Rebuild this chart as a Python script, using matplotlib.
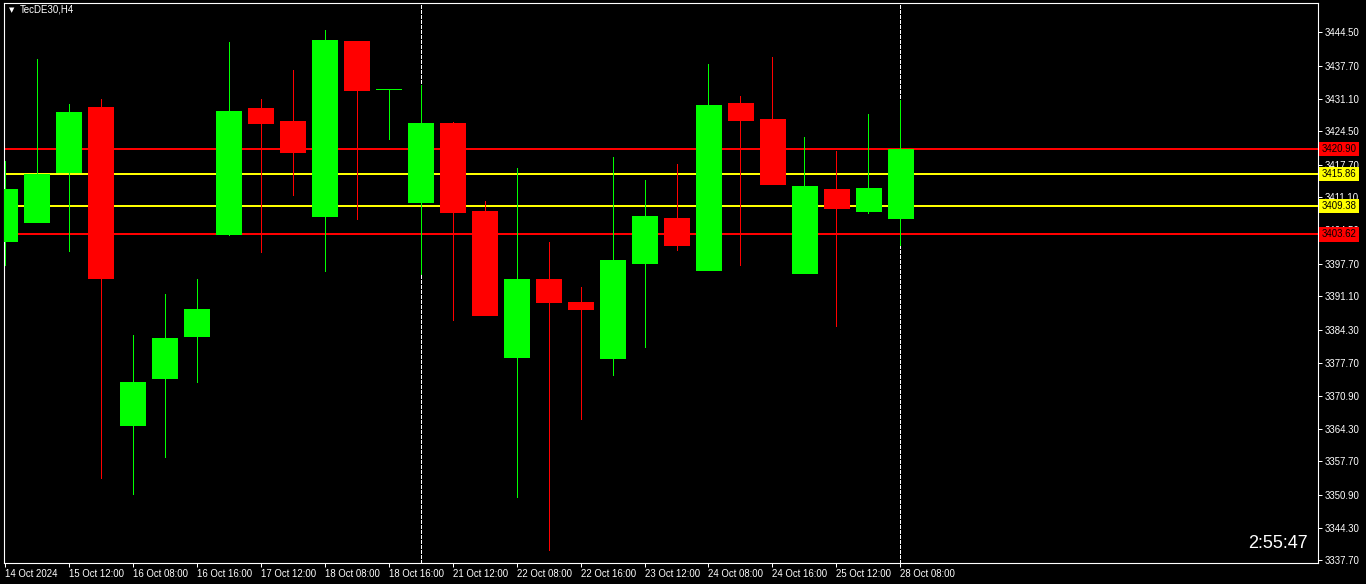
import matplotlib
matplotlib.use("Agg")
import matplotlib.pyplot as plt
import numpy as np

# H4 candles
opens = [3402.35, 3406.19, 3416.24, 3429.39, 3365.13, 3374.64, 3383.13, 3403.76, 3429.19, 3426.56,
         3407.40, 3442.74, 3432.97, 3410.24, 3426.15, 3408.36, 3378.89, 3394.60, 3389.95, 3378.68,
         3397.90, 3406.94, 3396.48, 3430.20, 3426.96, 3395.88, 3412.80, 3408.42, 3407.00]
highs = [3418.47, 3439.10, 3430.00, 3431.01, 3383.27, 3391.57, 3394.60, 3442.54, 3431.01, 3436.87,
         3444.97, 3442.74, 3432.97, 3433.84, 3426.35, 3410.38, 3417.05, 3402.08, 3392.98, 3419.28,
         3414.63, 3417.86, 3438.09, 3431.62, 3439.50, 3423.32, 3420.49, 3427.98, 3430.81]
lows = [3397.43, 3406.19, 3400.33, 3354.41, 3351.17, 3358.66, 3373.83, 3403.56, 3400.12, 3411.65,
        3396.28, 3406.80, 3422.98, 3395.55, 3386.31, 3387.38, 3350.57, 3339.85, 3366.34, 3375.18,
        3380.91, 3400.53, 3396.48, 3397.49, 3413.88, 3395.88, 3385.16, 3408.01, 3401.54]
closes = [3412.80, 3415.90, 3428.38, 3394.86, 3373.77, 3382.67, 3388.53, 3428.58, 3426.22, 3420.35,
          3442.94, 3432.89, 3432.97, 3426.15, 3408.21, 3387.38, 3394.60, 3390.01, 3388.53, 3398.44,
          3407.34, 3401.54, 3429.80, 3426.82, 3413.88, 3413.41, 3409.02, 3413.01, 3420.90]

time_labels = ["14 Oct 2024", "15 Oct 12:00", "16 Oct 08:00", "16 Oct 16:00", "17 Oct 12:00",
               "18 Oct 08:00", "18 Oct 16:00", "21 Oct 12:00", "22 Oct 08:00", "22 Oct 16:00",
               "23 Oct 12:00", "24 Oct 08:00", "24 Oct 16:00", "25 Oct 12:00", "28 Oct 08:00"]
price_ticks = [3444.50, 3437.70, 3431.10, 3424.50, 3417.70, 3411.10, 3404.50, 3397.70, 3391.10,
               3384.30, 3377.70, 3370.90, 3364.30, 3357.70, 3350.90, 3344.30, 3337.70]

levels = [3420.90, 3415.86, 3409.38, 3403.62]
level_colors = ["#ff0000", "#ffff00", "#ffff00", "#ff0000"]
separators = [13, 28]

plt.rcParams["font.family"] = ["Liberation Sans", "DejaVu Sans"]

fig = plt.figure(figsize=(13.66, 5.84), dpi=100, facecolor="black")
ax = fig.add_axes([4/1366, 21/584, 1314/1366, 560/584])
ax.set_facecolor("black")

x = np.arange(len(opens))
o = np.array(opens)
c = np.array(closes)
up = c >= o
cols = np.where(up, "#00ff00", "#ff0000")

for lv, lc in zip(levels, level_colors):
    ax.axhline(lv, color=lc, lw=1.44, zorder=1, antialiased=False)
for s in separators:
    ax.axvline(s, color="white", lw=0.72, ls=(0, (4, 2)), zorder=1, antialiased=False)

ax.vlines(x, lows, highs, colors=cols, lw=0.72, zorder=2, antialiased=False)
ax.bar(x, np.abs(c - o), bottom=np.minimum(o, c), width=0.78, color=cols,
       edgecolor=cols, linewidth=0.5, zorder=3, antialiased=False)

ax.set_xlim(-0.03, 41.06)
ax.set_ylim(3337.16, 3450.43)

ax.yaxis.tick_right()
ax.set_yticks(price_ticks)
ax.set_yticklabels(["%.2f" % t for t in price_ticks])
ax.set_xticks(x[::2])
ax.set_xticklabels(time_labels, ha="left")
ax.tick_params(colors="white", labelcolor="white", labelsize=6.9, length=3, width=0.72)
ax.tick_params(axis="x", pad=1)
ax.tick_params(axis="y", pad=2)
for sp in ax.spines.values():
    sp.set_color("white")
    sp.set_linewidth(0.8)

tr = ax.get_yaxis_transform()
for lv, lc in zip(levels, level_colors):
    ax.text(1.0028, lv, "%.2f" % lv, transform=tr, color="black", fontsize=6.9,
            va="center", ha="left", clip_on=False, zorder=5,
            bbox=dict(boxstyle="square,pad=0.25", fc=lc, ec="none"))

fig.text(9/1366, 1 - 10/584, "\u25bc", color="white", fontsize=5, va="center",
         family="DejaVu Sans")
fig.text(20/1366, 1 - 10/584, "TecDE30,H4", color="white", fontsize=7, va="center")
fig.text(1308/1366, 1 - 544/584, "2:55:47", color="white", fontsize=13, ha="right", va="center")

fig.savefig("out.png", dpi=100, facecolor="black")
